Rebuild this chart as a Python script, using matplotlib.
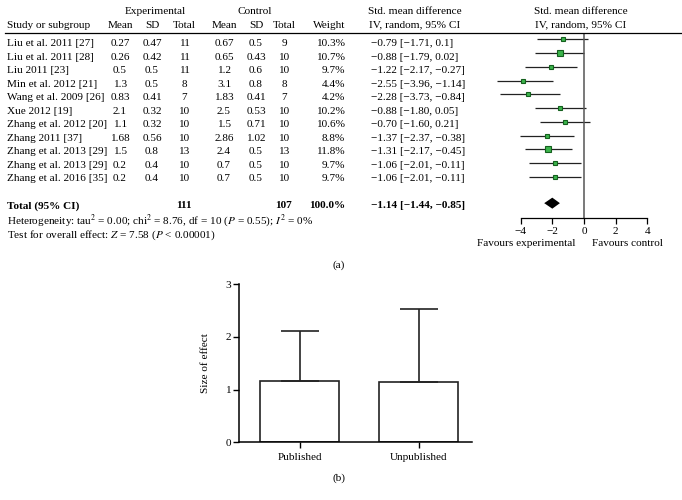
import matplotlib
matplotlib.use("Agg")
import matplotlib.pyplot as plt
from matplotlib.lines import Line2D

plt.rcParams['font.family'] = ['Liberation Serif', 'DejaVu Serif']
plt.rcParams['mathtext.fontset'] = 'stix'

# forest plot table
studies = ["Liu et al. 2011 [27]", "Liu et al. 2011 [28]", "Liu 2011 [23]",
           "Min et al. 2012 [21]", "Wang et al. 2009 [26]", "Xue 2012 [19]",
           "Zhang et al. 2012 [20]", "Zhang 2011 [37]", "Zhang et al. 2013 [29]",
           "Zhang et al. 2013 [29]", "Zhang et al. 2016 [35]"]
exp_mean = [0.27, 0.26, 0.5, 1.3, 0.83, 2.1, 1.1, 1.68, 1.5, 0.2, 0.2]
exp_sd = [0.47, 0.42, 0.5, 0.5, 0.41, 0.32, 0.32, 0.56, 0.8, 0.4, 0.4]
exp_n = [11, 11, 11, 8, 7, 10, 10, 10, 13, 10, 10]
ctl_mean = [0.67, 0.65, 1.2, 3.1, 1.83, 2.5, 1.5, 2.86, 2.4, 0.7, 0.7]
ctl_sd = [0.5, 0.43, 0.6, 0.8, 0.41, 0.53, 0.71, 1.02, 0.5, 0.5, 0.5]
ctl_n = [9, 10, 10, 8, 7, 10, 10, 10, 13, 10, 10]
weight = [10.3, 10.7, 9.7, 4.4, 4.2, 10.2, 10.6, 8.8, 11.8, 9.7, 9.7]
smd_txt = ["-0.79 [-1.71, 0.1]", "-0.88 [-1.79, 0.02]", "-1.22 [-2.17, -0.27]",
           "-2.55 [-3.96, -1.14]", "-2.28 [-3.73, -0.84]", "-0.88 [-1.80, 0.05]",
           "-0.70 [-1.60, 0.21]", "-1.37 [-2.37, -0.38]", "-1.31 [-2.17, -0.45]",
           "-1.06 [-2.01, -0.11]", "-1.06 [-2.01, -0.11]"]
total_txt = "-1.14 [-1.44, -0.85]"
total_exp_n = 111
total_ctl_n = 107
total_weight = "100.0%"

# where the marks sit on the drawn forest axis
plot_pt = [-1.35, -1.54, -2.11, -3.86, -3.54, -1.52, -1.20, -2.34, -2.26, -1.84, -1.84]
plot_lo = [-2.95, -3.08, -3.73, -5.46, -5.32, -3.08, -2.76, -4.05, -3.71, -3.46, -3.46]
plot_hi = [0.23, 0.0, -0.46, -1.94, -1.52, 0.11, 0.38, -0.65, -0.76, -0.21, -0.21]
diamond = [-2.51, -2.0, -1.52]
forest_ticks = [-4, -2, 0, 2, 4]

# bar chart (b)
groups = ["Published", "Unpublished"]
effect = [1.17, 1.15]
effect_err = [0.94, 1.38]

W, H = 682, 500
fig = plt.figure(figsize=(W / 100, H / 100), dpi=100)
FS = 8.1


def fx(px):
    return px / W


def fy(py):
    return 1 - py / H


def put(px, py, s, ha='center', **kw):
    fig.text(fx(px), fy(py), s, ha=ha, va='center', fontsize=kw.pop('fontsize', FS), **kw)


def mtxt(s):
    return s.replace('-', '\u2212')


# headers
put(155, 12, "Experimental")
put(255, 12, "Control")
put(415, 12, "Std. mean difference")
put(415, 25, "IV, random, 95% CI")
put(581, 12, "Std. mean difference")
put(581, 25, "IV, random, 95% CI")
put(7, 25, "Study or subgroup", ha='left')
for x, s in zip([120, 152, 184, 224, 256, 284], ["Mean", "SD", "Total", "Mean", "SD", "Total"]):
    put(x, 25, s)
put(345, 25, "Weight", ha='right')
fig.add_artist(Line2D([fx(5), fx(682)], [fy(33), fy(33)], color='black', lw=0.9,
                      transform=fig.transFigure))

# rows
for i in range(len(studies)):
    y = 44 + 13.45 * i
    put(7, y, studies[i], ha='left')
    put(120, y, str(exp_mean[i]))
    put(152, y, str(exp_sd[i]))
    put(184, y, str(exp_n[i]))
    put(224, y, str(ctl_mean[i]))
    put(256, y, str(ctl_sd[i]))
    put(284, y, str(ctl_n[i]))
    put(345, y, f"{weight[i]}%", ha='right')
    put(371, y, mtxt(smd_txt[i]), ha='left')

put(7, 206, "Total (95% CI)", ha='left', fontweight='bold')
put(184, 206, str(total_exp_n), fontweight='bold')
put(284, 206, str(total_ctl_n), fontweight='bold')
put(345, 206, total_weight, ha='right', fontweight='bold')
put(371, 206, mtxt(total_txt), ha='left', fontweight='bold')
put(7, 221, r"Heterogeneity: tau$^2$ = 0.00; chi$^2$ = 8.76, df = 10 ($P$ = 0.55); $I^2$ = 0%",
    ha='left')
put(7, 235, r"Test for overall effect: $Z$ = 7.58 ($P$ < 0.00001)", ha='left')

# forest plot axes: 0 at px 584, 15.85 px per unit; row i at px 39.3 + 13.77 i
x0, ppu = 584, 15.85
left_px, right_px, top_px, bot_px = 480, 682, 25, 250
ax = fig.add_axes([fx(left_px), fy(bot_px), (right_px - left_px) / W, (bot_px - top_px) / H])
ax.set_xlim((left_px - x0) / ppu, (right_px - x0) / ppu)
ax.set_ylim((bot_px - 39.3) / 13.77, (top_px - 39.3) / 13.77)
ax.patch.set_alpha(0)
rows = list(range(len(studies)))
ax.hlines(rows, plot_lo, plot_hi, color='#222222', lw=0.9)
for i in rows:
    ax.plot(plot_pt[i], i, 's', ms=1.9 + 0.16 * weight[i], mfc='#3cb44b',
            mec='#14601e', mew=0.8)
td = len(studies) + 0.9
ax.fill([diamond[0], diamond[1], diamond[2], diamond[1]], [td, td - 0.4, td, td + 0.4],
        color='black', lw=0)
ax.vlines(0, (33 - 39.3) / 13.77, 13, color='#555555', lw=1.1)
for s in ['top', 'right', 'left']:
    ax.spines[s].set_visible(False)
ax.spines['bottom'].set_position(('data', 13))
ax.spines['bottom'].set_bounds(-4, 4)
ax.spines['bottom'].set_linewidth(0.9)
ax.set_yticks([])
ax.set_xticks(forest_ticks)
ax.set_xticklabels([mtxt(str(t)) for t in forest_ticks], fontsize=FS)
ax.tick_params(axis='x', length=4, width=0.9, pad=2)
put(526, 243, "Favours experimental")
put(627, 243, "Favours control")
put(339, 265, "(a)")

# bar chart
bl, br, bt, bb = 239.3, 472, 284, 442.3
ax2 = fig.add_axes([fx(bl), fy(bb), (br - bl) / W, (bb - bt) / H])
xs = list(range(len(groups)))
ax2.bar(xs, effect, width=0.66, color='white', edgecolor='#222222', lw=1.2, zorder=2)
ax2.errorbar(xs, effect, yerr=[[0] * len(xs), effect_err], fmt='none', ecolor='#222222',
             elinewidth=1.2, capsize=14, capthick=1.2, zorder=3)
ax2.set_xlim(-0.508, 1.448)
ax2.set_ylim(0, 3)
ax2.set_yticks([0, 1, 2, 3])
ax2.set_xticks(xs)
ax2.set_xticklabels(groups, fontsize=FS)
ax2.tick_params(axis='y', labelsize=FS, length=4, width=1.0, pad=2)
ax2.tick_params(axis='x', length=4, width=1.0, pad=4)
for s in ['top', 'right']:
    ax2.spines[s].set_visible(False)
for s in ['left', 'bottom']:
    ax2.spines[s].set_linewidth(1.1)
ax2.set_ylabel("Size of effect", fontsize=FS)
ax2.yaxis.set_label_coords((210 - bl) / (br - bl), 0.5)
put(339, 478, "(b)")

fig.savefig("out.png", dpi=100)
